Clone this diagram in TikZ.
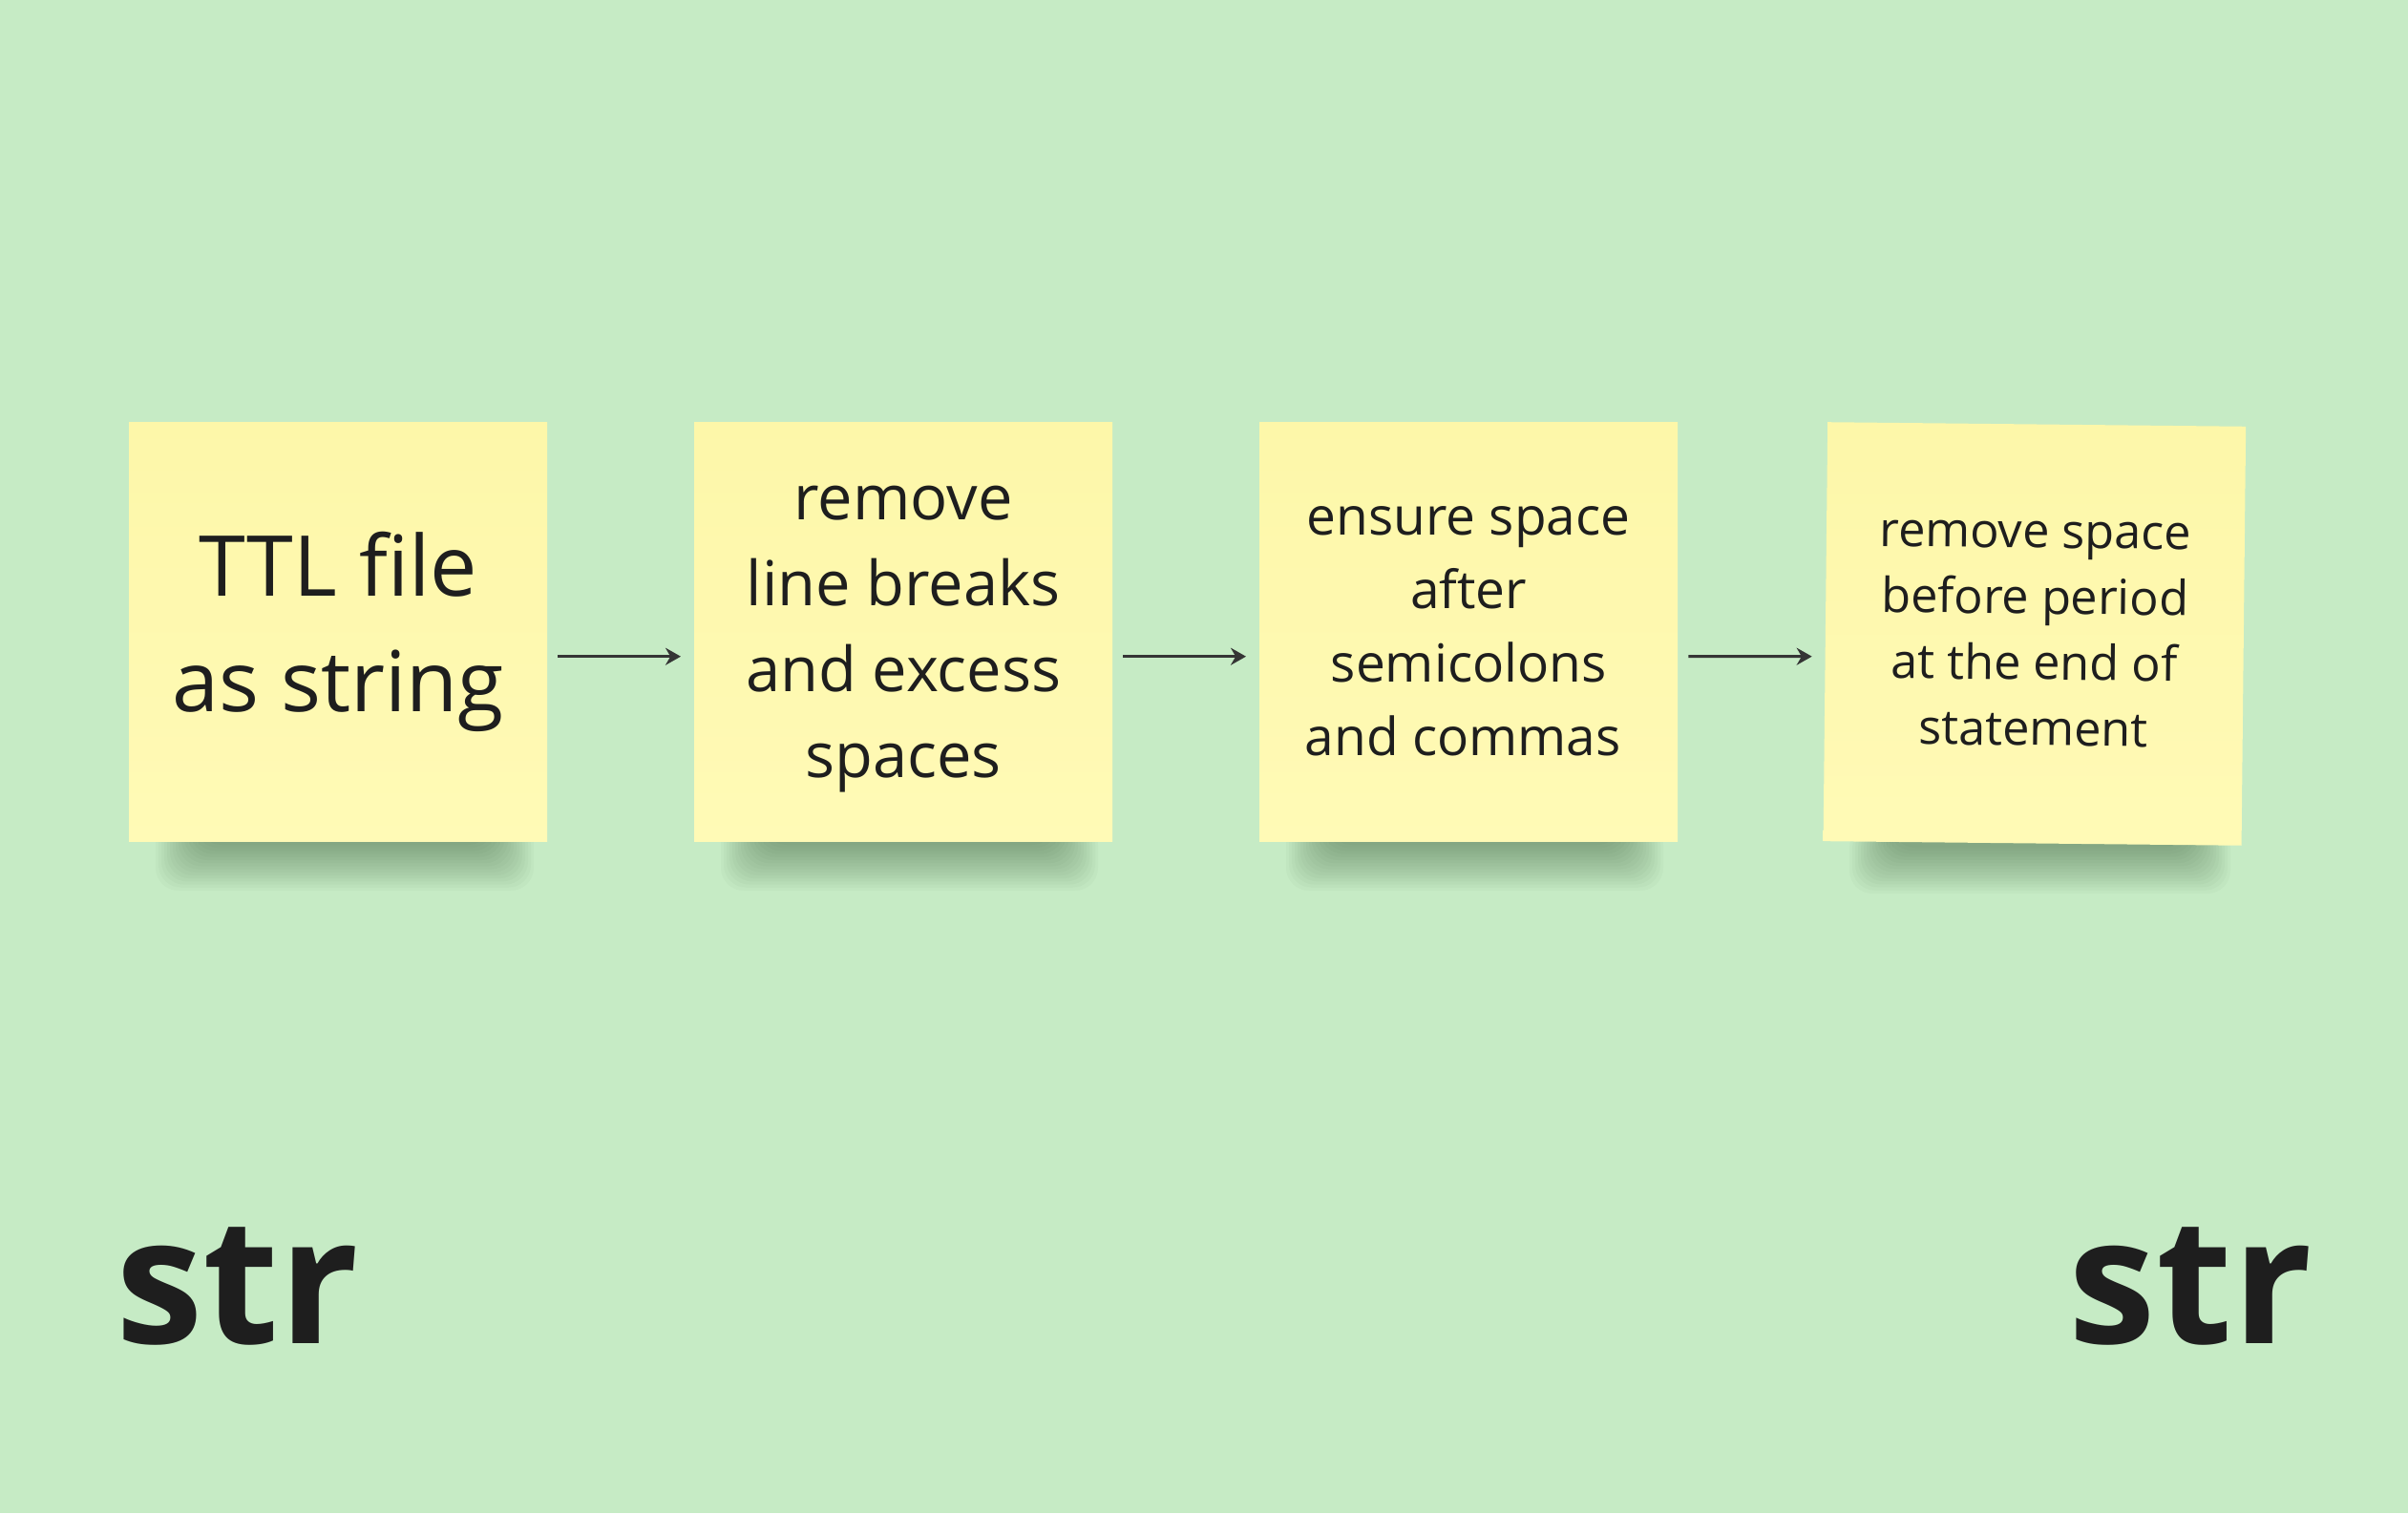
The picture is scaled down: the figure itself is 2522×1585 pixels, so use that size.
\documentclass[tikz,border=0pt]{standalone}
\usepackage{fontspec}
\setmainfont{Open Sans}
\usetikzlibrary{arrows.meta}
\definecolor{bg}{HTML}{C6EBC5}
\definecolor{notetop}{HTML}{FDF7A9}
\definecolor{notebot}{HTML}{FFFAB6}
\definecolor{ink}{HTML}{1E1E1E}
\definecolor{shd}{HTML}{2F4F30}
\tikzset{
 sticky/.style={top color=notetop, bottom color=notebot, minimum width=438pt, minimum height=439pt,
   inner sep=0pt, anchor=north west, text=ink, align=center},
 conn/.style={draw=ink!90, line width=3pt, -{Stealth[length=16pt,width=18pt]}},
 bigtxt/.style={font=\bfseries\fontsize{184}{200}\selectfont, text=ink, inner sep=0pt, anchor=base west}
}
\newcommand\stickyshadow[3]{%
 \foreach \i in {0,...,15}{
  \fill[shd, opacity=0.032, rounded corners=24pt] (#1+28+\i*3, #3-20) rectangle (#2-14-\i*3, #3+52-\i*3.2);
 }
}
\begin{document}
\begin{tikzpicture}[x=1pt,y=-1pt]
\fill[bg] (0,0) rectangle (2522,1585);
\useasboundingbox (0,0) rectangle (2522,1585);
\stickyshadow{135}{573}{881}
\stickyshadow{727}{1164}{881}
\stickyshadow{1319}{1756}{881}
\stickyshadow{1909}{2350}{884}
\node[sticky, font=\fontsize{88}{121}\selectfont] (n1) at (135,442) {TTL file\\as string};
\node[sticky, font=\fontsize{65}{90}\selectfont] (n2) at (727,442) {\rule{0pt}{51pt}remove\\line breaks\\and excess\\spaces};
\node[sticky, font=\fontsize{55}{77}\selectfont] (n3) at (1319,442) {ensure space\\after\\semicolons\\and commas\kern 12pt};
\node[sticky, font=\fontsize{50.5}{69}\selectfont, rotate=-0.6] (n4) at (1914,442) {remove space\\before period\\at the end of\\statement};
\draw[conn] ([xshift=11pt,yshift=-26pt]n1.east) -- ([xshift=-14pt,yshift=-26pt]n2.west);
\draw[conn] ([xshift=11pt,yshift=-26pt]n2.east) -- ([xshift=-14pt,yshift=-26pt]n3.west);
\draw[conn] ([xshift=11pt,yshift=-26pt]n3.east) -- ([xshift=-14pt,yshift=-26pt]n4.west);
\node[bigtxt] (s1) at (121,1407) {str};
\node[bigtxt, anchor=base east] (s2) at (2422,1407) {str};
\end{tikzpicture}
\end{document}
